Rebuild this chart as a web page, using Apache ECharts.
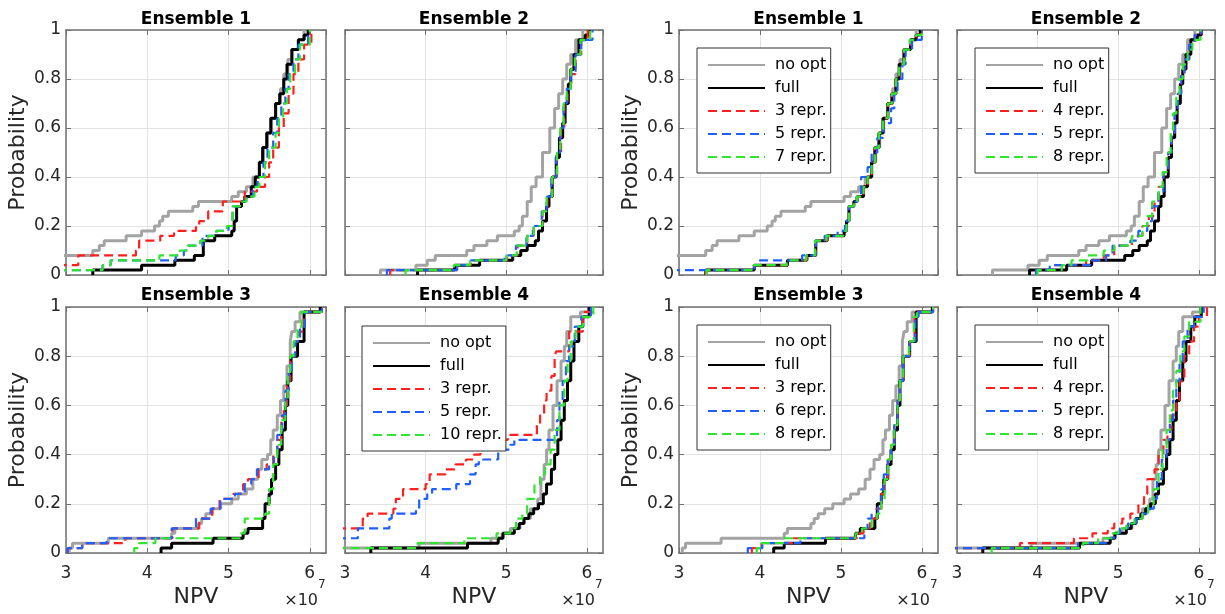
<!DOCTYPE html>
<html><head><meta charset="utf-8">
<script src="https://cdn.jsdelivr.net/npm/echarts@6/dist/echarts.min.js"></script>
<style>html,body{margin:0;padding:0;background:#fff}#c{width:1225px;height:614px}</style>
</head><body><div id="c"></div>
<script>
// ---------- data (x in units of 1e7 NPV, y = cumulative probability) ----------
const xTicks = [3, 4, 5, 6];
const yTicks = [0, 0.2, 0.4, 0.6, 0.8, 1];
const panelTitles = ['Ensemble 1', 'Ensemble 2', 'Ensemble 3', 'Ensemble 4', 'Ensemble 1', 'Ensemble 2', 'Ensemble 3', 'Ensemble 4'];

// "no opt" and "full" curves (shared by both figure halves)
const noOpt1 = [[2.9,0.08],[3.33,0.10],[3.41,0.12],[3.47,0.14],[3.74,0.16],[3.93,0.18],[4.09,0.20],[4.15,0.22],[4.19,0.24],[4.26,0.26],[4.56,0.28],[4.63,0.30],[5.04,0.32],[5.12,0.34],[5.22,0.36],[5.3,0.40],[5.38,0.46],[5.43,0.52],[5.48,0.58],[5.53,0.64],[5.58,0.70],[5.64,0.76],[5.68,0.82],[5.73,0.88],[5.78,0.92],[5.86,0.96],[5.93,1.0]];
const full1 = [[3.33,0.0],[3.33,0.02],[3.93,0.04],[4.34,0.06],[4.58,0.08],[4.69,0.14],[4.83,0.16],[5.04,0.18],[5.07,0.22],[5.1,0.28],[5.16,0.30],[5.2,0.32],[5.28,0.36],[5.33,0.40],[5.38,0.46],[5.42,0.52],[5.47,0.58],[5.52,0.64],[5.58,0.70],[5.63,0.74],[5.68,0.80],[5.72,0.86],[5.78,0.92],[5.86,0.96],[5.93,0.98],[5.98,1.0]];
const noOpt2 = [[3.44,0.0],[3.44,0.02],[3.88,0.04],[4.02,0.06],[4.12,0.08],[4.51,0.10],[4.6,0.12],[4.76,0.14],[4.89,0.16],[5.1,0.18],[5.16,0.20],[5.2,0.24],[5.26,0.30],[5.31,0.36],[5.37,0.40],[5.45,0.50],[5.54,0.60],[5.6,0.68],[5.65,0.74],[5.7,0.80],[5.75,0.86],[5.8,0.90],[5.86,0.96],[5.95,1.0]];
const full2 = [[3.9,0.0],[3.9,0.02],[4.36,0.04],[4.67,0.06],[5.08,0.08],[5.18,0.10],[5.26,0.12],[5.36,0.14],[5.4,0.18],[5.45,0.22],[5.5,0.28],[5.53,0.32],[5.57,0.40],[5.62,0.48],[5.66,0.56],[5.7,0.62],[5.73,0.70],[5.77,0.78],[5.8,0.84],[5.84,0.90],[5.9,0.96],[5.98,0.98],[6.03,1.0]];
const noOpt3 = [[3.04,0.0],[3.04,0.02],[3.08,0.04],[3.52,0.06],[4.3,0.08],[4.34,0.10],[4.63,0.12],[4.67,0.14],[4.72,0.16],[4.8,0.18],[4.9,0.20],[5.04,0.22],[5.12,0.24],[5.22,0.26],[5.3,0.30],[5.36,0.34],[5.41,0.38],[5.48,0.40],[5.52,0.46],[5.55,0.50],[5.6,0.56],[5.64,0.62],[5.68,0.68],[5.72,0.76],[5.76,0.86],[5.78,0.90],[5.82,0.94],[5.88,0.98],[6.13,1.0]];
const full3 = [[4.17,0.0],[4.17,0.02],[4.3,0.04],[4.81,0.06],[5.18,0.08],[5.24,0.10],[5.42,0.14],[5.45,0.20],[5.5,0.24],[5.53,0.30],[5.58,0.36],[5.62,0.42],[5.66,0.50],[5.7,0.60],[5.73,0.70],[5.77,0.80],[5.85,0.86],[5.93,0.98],[6.13,1.0]];
const noOpt4 = [[2.9,0.02],[3.92,0.04],[4.81,0.06],[4.95,0.08],[5.05,0.10],[5.17,0.12],[5.22,0.14],[5.3,0.18],[5.39,0.22],[5.43,0.30],[5.47,0.36],[5.5,0.42],[5.53,0.50],[5.58,0.60],[5.63,0.70],[5.68,0.78],[5.72,0.84],[5.75,0.90],[5.8,0.96],[5.92,0.98],[6.03,1.0]];
const full4 = [[3.32,0.0],[3.32,0.02],[4.52,0.04],[4.9,0.06],[4.96,0.08],[5.1,0.10],[5.16,0.12],[5.22,0.14],[5.28,0.16],[5.34,0.18],[5.4,0.20],[5.46,0.24],[5.5,0.28],[5.56,0.34],[5.6,0.40],[5.64,0.46],[5.68,0.54],[5.72,0.62],[5.76,0.70],[5.8,0.78],[5.84,0.86],[5.9,0.92],[5.95,0.96],[6.03,1.0]];

// left figure: representative-subset curves
const L1_red = [[2.9,0.04],[3.15,0.08],[3.86,0.10],[3.9,0.14],[4.16,0.16],[4.33,0.18],[4.6,0.20],[4.64,0.22],[4.75,0.26],[4.93,0.30],[5.2,0.34],[5.35,0.36],[5.45,0.40],[5.5,0.46],[5.55,0.52],[5.62,0.60],[5.68,0.66],[5.74,0.74],[5.8,0.82],[5.86,0.88],[5.93,0.94],[6.02,1.0]];
const L1_blue = [[2.9,0.02],[3.45,0.04],[3.55,0.06],[4.35,0.08],[4.45,0.10],[4.5,0.12],[4.68,0.16],[4.85,0.18],[5.0,0.20],[5.05,0.28],[5.14,0.30],[5.22,0.32],[5.3,0.36],[5.36,0.40],[5.43,0.46],[5.48,0.52],[5.55,0.58],[5.6,0.64],[5.65,0.70],[5.7,0.76],[5.74,0.82],[5.8,0.88],[5.86,0.94],[5.98,1.0]];
const L1_green = [[2.9,0.02],[3.45,0.04],[3.55,0.06],[4.15,0.08],[4.4,0.10],[4.5,0.12],[4.65,0.14],[4.75,0.16],[4.85,0.18],[4.98,0.20],[5.05,0.28],[5.14,0.30],[5.22,0.32],[5.32,0.36],[5.38,0.40],[5.45,0.46],[5.5,0.52],[5.58,0.58],[5.62,0.64],[5.67,0.70],[5.72,0.76],[5.76,0.82],[5.82,0.88],[5.88,0.94],[6.0,1.0]];
const L2_red = [[3.56,0.0],[3.56,0.02],[4.39,0.04],[4.56,0.06],[5.01,0.08],[5.14,0.12],[5.26,0.16],[5.34,0.20],[5.45,0.26],[5.51,0.32],[5.57,0.40],[5.63,0.50],[5.68,0.60],[5.72,0.70],[5.76,0.76],[5.8,0.82],[5.86,0.90],[5.93,0.96],[6.01,1.0]];
const L2_blue = [[3.52,0.0],[3.52,0.02],[4.39,0.04],[4.56,0.06],[4.98,0.08],[5.12,0.12],[5.25,0.16],[5.33,0.20],[5.44,0.26],[5.5,0.32],[5.56,0.40],[5.62,0.50],[5.67,0.60],[5.71,0.70],[5.75,0.76],[5.8,0.82],[5.86,0.90],[5.93,0.96],[6.07,1.0]];
const L2_green = [[3.75,0.0],[3.75,0.02],[4.35,0.04],[4.55,0.06],[5.0,0.08],[5.13,0.12],[5.26,0.16],[5.34,0.20],[5.45,0.26],[5.5,0.32],[5.57,0.40],[5.63,0.50],[5.67,0.60],[5.71,0.70],[5.75,0.76],[5.8,0.84],[5.85,0.90],[5.92,0.96],[6.04,1.0]];
const L3_red = [[3.02,0.0],[3.02,0.02],[3.2,0.04],[3.73,0.06],[4.31,0.10],[4.64,0.14],[4.8,0.18],[4.89,0.22],[5.05,0.24],[5.18,0.28],[5.24,0.30],[5.37,0.34],[5.47,0.36],[5.55,0.40],[5.6,0.46],[5.65,0.54],[5.68,0.60],[5.72,0.70],[5.76,0.80],[5.82,0.86],[5.87,0.90],[5.93,0.98],[6.15,1.0]];
const L3_blue = [[3.02,0.0],[3.02,0.02],[3.2,0.04],[3.5,0.06],[4.3,0.10],[4.6,0.14],[4.78,0.18],[4.9,0.22],[5.08,0.24],[5.2,0.28],[5.28,0.30],[5.35,0.34],[5.5,0.36],[5.56,0.40],[5.6,0.48],[5.66,0.56],[5.7,0.66],[5.74,0.74],[5.78,0.80],[5.82,0.86],[5.88,0.92],[5.94,0.98],[6.15,1.0]];
const L3_green = [[3.84,0.0],[3.84,0.02],[3.9,0.04],[4.1,0.06],[5.15,0.08],[5.2,0.14],[5.45,0.16],[5.5,0.26],[5.55,0.36],[5.6,0.44],[5.65,0.54],[5.7,0.62],[5.73,0.72],[5.76,0.80],[5.8,0.86],[5.85,0.92],[5.9,0.98],[6.15,1.0]];
const L4_red = [[2.9,0.10],[3.22,0.14],[3.28,0.16],[3.6,0.18],[3.63,0.22],[3.72,0.26],[4.0,0.28],[4.05,0.32],[4.25,0.34],[4.37,0.36],[4.5,0.38],[4.6,0.40],[4.68,0.42],[4.8,0.44],[4.95,0.46],[5.02,0.48],[5.38,0.52],[5.42,0.56],[5.47,0.62],[5.5,0.66],[5.56,0.72],[5.6,0.80],[5.62,0.82],[5.78,0.90],[5.95,0.98],[6.07,1.0]];
const L4_blue = [[2.9,0.06],[3.16,0.10],[3.55,0.14],[3.58,0.16],[3.88,0.18],[3.92,0.22],[4.02,0.24],[4.08,0.26],[4.38,0.28],[4.55,0.32],[4.62,0.36],[4.66,0.38],[4.9,0.42],[5.05,0.44],[5.1,0.46],[5.63,0.54],[5.66,0.62],[5.7,0.70],[5.74,0.78],[5.78,0.84],[5.85,0.92],[5.93,0.96],[6.05,1.0]];
const L4_green = [[2.9,0.02],[3.9,0.04],[4.48,0.06],[4.88,0.08],[5.05,0.10],[5.12,0.14],[5.2,0.16],[5.26,0.22],[5.35,0.28],[5.42,0.32],[5.48,0.36],[5.55,0.42],[5.6,0.50],[5.66,0.60],[5.72,0.70],[5.76,0.78],[5.8,0.86],[5.86,0.92],[5.95,0.96],[6.08,1.0]];

// right figure: representative-subset curves
const R1_red = [[3.33,0.0],[3.33,0.02],[3.93,0.04],[4.34,0.06],[4.58,0.08],[4.69,0.14],[4.83,0.16],[5.04,0.18],[5.07,0.22],[5.1,0.28],[5.16,0.30],[5.2,0.32],[5.28,0.36],[5.33,0.40],[5.38,0.46],[5.42,0.52],[5.47,0.58],[5.52,0.64],[5.58,0.70],[5.63,0.74],[5.68,0.80],[5.72,0.86],[5.78,0.92],[5.86,0.96],[5.93,0.98],[5.99,1.0]];
const R1_blue = [[2.9,0.02],[3.93,0.04],[3.98,0.06],[4.52,0.08],[4.69,0.14],[4.8,0.16],[4.96,0.18],[5.05,0.22],[5.1,0.28],[5.16,0.30],[5.2,0.32],[5.25,0.40],[5.33,0.44],[5.38,0.50],[5.45,0.56],[5.52,0.62],[5.62,0.68],[5.66,0.74],[5.7,0.80],[5.76,0.86],[5.8,0.92],[5.88,0.96],[6.0,1.0]];
const R1_green = [[3.34,0.0],[3.34,0.02],[3.92,0.04],[4.33,0.06],[4.57,0.08],[4.68,0.14],[4.82,0.16],[5.03,0.18],[5.07,0.22],[5.1,0.28],[5.16,0.30],[5.2,0.32],[5.28,0.36],[5.33,0.40],[5.38,0.46],[5.42,0.52],[5.47,0.58],[5.52,0.64],[5.58,0.70],[5.63,0.74],[5.68,0.80],[5.72,0.86],[5.78,0.92],[5.85,0.96],[5.93,0.98],[6.0,1.0]];
const R2_red = [[3.98,0.0],[3.98,0.02],[4.2,0.04],[4.6,0.06],[4.82,0.08],[4.95,0.12],[5.17,0.16],[5.3,0.20],[5.38,0.24],[5.45,0.30],[5.5,0.36],[5.56,0.42],[5.62,0.50],[5.66,0.58],[5.7,0.66],[5.74,0.74],[5.78,0.82],[5.82,0.88],[5.88,0.94],[5.95,0.98],[6.03,1.0]];
const R2_blue = [[3.98,0.0],[3.98,0.02],[4.15,0.04],[4.65,0.06],[4.85,0.08],[4.93,0.12],[5.15,0.14],[5.25,0.18],[5.36,0.22],[5.42,0.28],[5.5,0.34],[5.56,0.42],[5.62,0.50],[5.66,0.58],[5.7,0.66],[5.74,0.74],[5.78,0.82],[5.82,0.88],[5.88,0.94],[5.95,0.98],[6.03,1.0]];
const R2_green = [[4.0,0.0],[4.0,0.02],[4.3,0.04],[4.42,0.06],[4.62,0.08],[4.82,0.10],[4.95,0.12],[5.17,0.16],[5.3,0.20],[5.36,0.24],[5.42,0.30],[5.5,0.36],[5.55,0.42],[5.6,0.50],[5.65,0.58],[5.68,0.66],[5.72,0.74],[5.76,0.80],[5.8,0.86],[5.86,0.92],[5.92,0.96],[6.02,1.0]];
const R3_red = [[3.9,0.0],[3.9,0.02],[4.02,0.04],[4.4,0.06],[5.2,0.08],[5.28,0.10],[5.36,0.14],[5.44,0.18],[5.5,0.24],[5.54,0.30],[5.58,0.38],[5.62,0.44],[5.66,0.52],[5.7,0.62],[5.73,0.70],[5.77,0.80],[5.85,0.86],[5.91,0.96],[5.95,0.98],[6.14,1.0]];
const R3_blue = [[3.85,0.0],[3.85,0.02],[4.03,0.04],[4.5,0.06],[5.29,0.10],[5.33,0.14],[5.38,0.16],[5.46,0.20],[5.5,0.26],[5.53,0.32],[5.58,0.38],[5.62,0.44],[5.66,0.52],[5.7,0.62],[5.73,0.70],[5.77,0.80],[5.85,0.86],[5.92,0.96],[5.96,0.98],[6.14,1.0]];
const R3_green = [[3.96,0.0],[3.96,0.02],[4.0,0.04],[4.3,0.06],[5.18,0.08],[5.26,0.10],[5.38,0.14],[5.45,0.16],[5.5,0.22],[5.54,0.30],[5.58,0.38],[5.62,0.44],[5.66,0.52],[5.7,0.62],[5.73,0.70],[5.77,0.80],[5.84,0.86],[5.9,0.96],[5.94,0.98],[6.14,1.0]];
const R4_red = [[2.9,0.02],[3.78,0.04],[4.45,0.06],[4.68,0.08],[4.87,0.10],[4.95,0.12],[5.05,0.14],[5.15,0.16],[5.25,0.20],[5.32,0.24],[5.36,0.30],[5.45,0.34],[5.5,0.40],[5.56,0.46],[5.61,0.50],[5.66,0.56],[5.72,0.62],[5.76,0.70],[5.82,0.80],[5.88,0.86],[5.94,0.92],[6.0,0.96],[6.1,1.0]];
const R4_blue = [[2.9,0.02],[4.5,0.04],[4.85,0.06],[4.95,0.08],[5.02,0.10],[5.12,0.12],[5.22,0.14],[5.3,0.16],[5.38,0.18],[5.44,0.22],[5.48,0.30],[5.54,0.38],[5.6,0.46],[5.64,0.54],[5.68,0.62],[5.72,0.70],[5.76,0.78],[5.8,0.86],[5.86,0.92],[5.94,0.96],[6.06,1.0]];
const R4_green = [[3.43,0.0],[3.43,0.02],[4.56,0.04],[4.75,0.06],[4.92,0.08],[5.0,0.10],[5.1,0.12],[5.2,0.14],[5.3,0.16],[5.37,0.20],[5.44,0.26],[5.5,0.34],[5.55,0.42],[5.6,0.50],[5.64,0.58],[5.68,0.66],[5.72,0.74],[5.77,0.82],[5.82,0.88],[5.88,0.94],[6.02,1.0]];

// series names per panel: [red, blue, green]
const leftNames = ['3 repr.', '5 repr.', '10 repr.'];
const rightNames = [['3 repr.', '5 repr.', '7 repr.'], ['4 repr.', '5 repr.', '8 repr.'], ['3 repr.', '6 repr.', '8 repr.'], ['4 repr.', '5 repr.', '8 repr.']];

// ---------- layout ----------
const colLeft = [66, 345, 679, 957], colW = [260, 258, 259, 258];
const rowTop = [30, 307], rowH = [245, 246];
const FONT = 'DejaVu Sans';
const AX = '#707070', TXT = '#262626';
const styles = {
  noopt: {color: '#a3a3a3', width: 3, type: 'solid'},
  full: {color: '#000000', width: 3, type: 'solid'},
  red: {color: '#ff1f1f', width: 2.2, type: [9, 5]},
  blue: {color: '#1f5fff', width: 2.2, type: [9, 5]},
  green: {color: '#2ee62e', width: 2.2, type: [9, 5]}
};

const panels = [
  {col: 0, row: 0, curves: [noOpt1, full1, L1_red, L1_blue, L1_green], names: leftNames, legend: false},
  {col: 1, row: 0, curves: [noOpt2, full2, L2_red, L2_blue, L2_green], names: leftNames, legend: false},
  {col: 0, row: 1, curves: [noOpt3, full3, L3_red, L3_blue, L3_green], names: leftNames, legend: false},
  {col: 1, row: 1, curves: [noOpt4, full4, L4_red, L4_blue, L4_green], names: leftNames, legend: true, lx: 362, ly: 326},
  {col: 2, row: 0, curves: [noOpt1, full1, R1_red, R1_blue, R1_green], names: rightNames[0], legend: true, lx: 697, ly: 48},
  {col: 3, row: 0, curves: [noOpt2, full2, R2_red, R2_blue, R2_green], names: rightNames[1], legend: true, lx: 975, ly: 48},
  {col: 2, row: 1, curves: [noOpt3, full3, R3_red, R3_blue, R3_green], names: rightNames[2], legend: true, lx: 697, ly: 325},
  {col: 3, row: 1, curves: [noOpt4, full4, R4_red, R4_blue, R4_green], names: rightNames[3], legend: true, lx: 975, ly: 325}
];

const grids = [], xAxes = [], yAxes = [], series = [], legends = [], graphics = [];
const lineAx = {show: true, onZero: false, lineStyle: {color: AX, width: 1.5}};
const tickAx = {show: true, inside: true, length: 5, lineStyle: {color: AX, width: 1}};

panels.forEach((p, i) => {
  const L = colLeft[p.col], T = rowTop[p.row], W = colW[p.col], H = rowH[p.row];
  grids.push({left: L, top: T, width: W, height: H, containLabel: false});
  const showX = p.row === 1, showY = (p.col === 0 || p.col === 2);
  xAxes.push({gridIndex: i, type: 'value', position: 'bottom', min: xTicks[0], max: 6.2, interval: 1,
    axisLine: lineAx, axisTick: tickAx,
    axisLabel: {show: showX, margin: 12, color: TXT, fontFamily: FONT, fontSize: 17, showMaxLabel: false},
    splitLine: {show: true, lineStyle: {color: '#e3e3e3', width: 1}},
    name: showX ? 'NPV' : '', nameLocation: 'middle', nameGap: 33,
    nameTextStyle: {color: TXT, fontFamily: FONT, fontSize: 22}});
  xAxes.push({gridIndex: i, type: 'value', position: 'top', min: xTicks[0], max: 6.2, interval: 1,
    axisLine: lineAx, axisTick: tickAx, axisLabel: {show: false}, splitLine: {show: false}});
  yAxes.push({gridIndex: i, type: 'value', position: 'left', min: yTicks[0], max: yTicks[yTicks.length - 1], interval: 0.2,
    axisLine: lineAx, axisTick: tickAx,
    axisLabel: {show: showY, margin: 5, color: TXT, fontFamily: FONT, fontSize: 17},
    splitLine: {show: true, lineStyle: {color: '#e3e3e3', width: 1}},
    name: showY ? 'Probability' : '', nameLocation: 'middle', nameGap: 37,
    nameTextStyle: {color: TXT, fontFamily: FONT, fontSize: 22}});
  yAxes.push({gridIndex: i, type: 'value', position: 'right', min: 0, max: 1, interval: 0.2,
    axisLine: lineAx, axisTick: tickAx, axisLabel: {show: false}, splitLine: {show: false}});

  const names = ['no opt', 'full'].concat(p.names);
  const keys = ['noopt', 'full', 'red', 'blue', 'green'];
  p.curves.forEach((d, k) => {
    const s = styles[keys[k]];
    series.push({type: 'line', name: names[k], xAxisIndex: 2 * i, yAxisIndex: 2 * i, data: d,
      step: 'end', symbol: 'none', showSymbol: false, silent: true, animation: false, clip: true,
      color: s.color, lineStyle: {color: s.color, width: s.width, type: s.type}, z: 2 + k});
  });

  if (p.legend) {
    legends.push({orient: 'vertical', left: p.lx, top: p.ly, data: names,
      itemWidth: 57, itemHeight: 16, itemGap: 7, padding: [9, 4, 8, 10],
      backgroundColor: '#ffffff', borderColor: '#333333', borderWidth: 1, borderRadius: 0,
      selectedMode: false, z: 20,
      itemStyle: {opacity: 0, borderWidth: 0},
      textStyle: {color: '#000', fontFamily: FONT, fontSize: 16, padding: [0, 0, 0, 5]}});
  }

  // panel title
  graphics.push({type: 'text', x: L + W / 2, y: p.row === 0 ? 20 : 296, z: 30,
    style: {text: panelTitles[i], fill: '#000', font: 'bold 17px "' + FONT + '"', textAlign: 'center', textVerticalAlign: 'middle'}});
  // x10^7 exponent label
  if (showX) {
    graphics.push({type: 'text', x: L + W - 8, y: T + H + 48, z: 30,
      style: {text: '×10', fill: TXT, font: '16px "' + FONT + '"', textAlign: 'right', textVerticalAlign: 'middle'}});
    graphics.push({type: 'text', x: L + W - 8, y: T + H + 32, z: 30,
      style: {text: '7', fill: TXT, font: '12px "' + FONT + '"', textAlign: 'left', textVerticalAlign: 'middle'}});
  }
});

const chart = echarts.init(document.getElementById('c'), null, {renderer: 'canvas'});
chart.setOption({
  animation: false,
  backgroundColor: '#ffffff',
  grid: grids, xAxis: xAxes, yAxis: yAxes, series: series, legend: legends, graphic: graphics
});
</script></body></html>
